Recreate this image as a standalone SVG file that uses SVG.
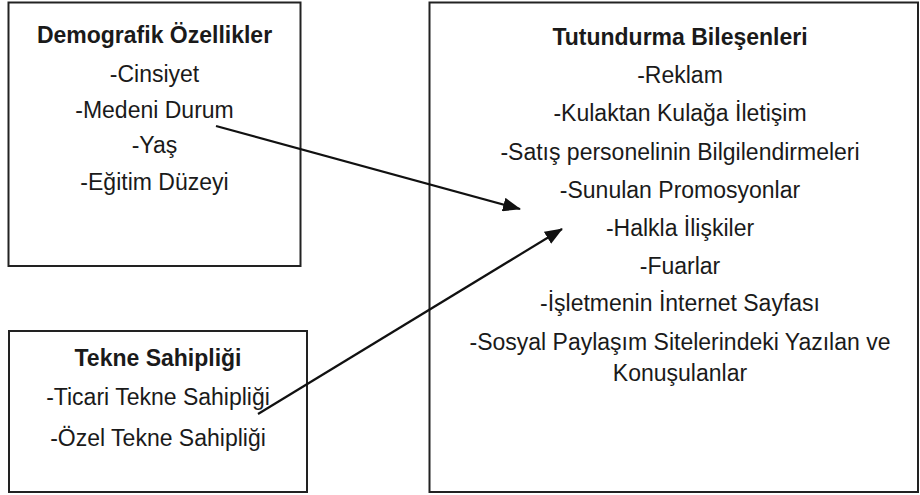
<svg xmlns="http://www.w3.org/2000/svg" width="920" height="495" viewBox="0 0 920 495">
<defs>
<style>
.box{fill:#fff;stroke:#222;stroke-width:2}
.t{font-family:"Liberation Sans",Arial,sans-serif;font-size:23px;fill:#1a1a1a;text-anchor:middle}
.b{font-weight:bold}
.c{stroke:#111;stroke-width:2.2;fill:none}
</style>
<marker id="ah" markerWidth="18" markerHeight="14" refX="17" refY="7" orient="auto" markerUnits="userSpaceOnUse">
<path d="M0,0 L18,7 L0,14 Z" fill="#111"/>
</marker>
</defs>
<rect width="920" height="495" fill="#fff"/>
<g id="demografik">
<rect class="box" x="8.5" y="2.5" width="292" height="263.5"/>
<text class="t b" x="154.5" y="43">Demografik Özellikler</text>
<text class="t" x="154.5" y="82">-Cinsiyet</text>
<text class="t" x="154.5" y="118">-Medeni Durum</text>
<text class="t" x="154.5" y="153">-Yaş</text>
<text class="t" x="154.5" y="190">-Eğitim Düzeyi</text>
</g>
<g id="tekne">
<rect class="box" x="9" y="331" width="298" height="161"/>
<text class="t b" x="158" y="366">Tekne Sahipliği</text>
<text class="t" x="158" y="405">-Ticari Tekne Sahipliği</text>
<text class="t" x="158" y="446">-Özel Tekne Sahipliği</text>
</g>
<g id="tutundurma">
<rect class="box" x="429.5" y="2.5" width="488.5" height="489.5"/>
<text class="t b" x="680" y="45">Tutundurma Bileşenleri</text>
<text class="t" x="680" y="83">-Reklam</text>
<text class="t" x="680" y="121">-Kulaktan Kulağa İletişim</text>
<text class="t" x="680" y="160">-Satış personelinin Bilgilendirmeleri</text>
<text class="t" x="680" y="198">-Sunulan Promosyonlar</text>
<text class="t" x="680" y="236">-Halkla İlişkiler</text>
<text class="t" x="680" y="274">-Fuarlar</text>
<text class="t" x="680" y="311">-İşletmenin İnternet Sayfası</text>
<text class="t" x="680" y="350">-Sosyal Paylaşım Sitelerindeki Yazılan ve</text>
<text class="t" x="680" y="381">Konuşulanlar</text>
</g>
<g id="connectors">
<line class="c" x1="216" y1="126" x2="520" y2="209" marker-end="url(#ah)"/>
<line class="c" x1="258" y1="414" x2="562" y2="229" marker-end="url(#ah)"/>
</g>
</svg>
